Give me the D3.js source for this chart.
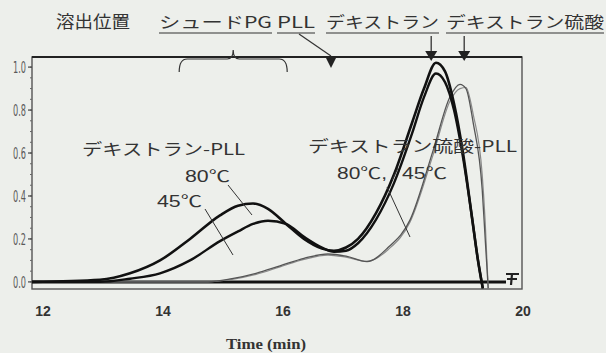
<!DOCTYPE html>
<html>
<head>
<meta charset="utf-8">
<script src="https://cdn.jsdelivr.net/npm/d3@7"></script>
<style>
  body { margin: 0; background: #edefeb; }
  text { fill: #333; }
</style>
</head>
<body>
<svg id="chart" width="606" height="353"></svg>
<script>
// elution curves (time in min, relative intensity)
var timeDexPll = [11.87, 13.0, 13.5, 14.0, 14.5, 15.0, 15.3, 15.55, 15.8, 16.1, 16.4, 16.7, 16.9,
                  17.1, 17.3, 17.6, 17.9, 18.2, 18.4, 18.6, 18.75, 18.9, 19.05, 19.2, 19.3, 19.38];
var dexPll80 = [0, 0.01, 0.04, 0.1, 0.2, 0.31, 0.355, 0.365, 0.34, 0.27, 0.2, 0.155, 0.145,
                0.16, 0.2, 0.32, 0.5, 0.74, 0.9, 1.02, 0.98, 0.83, 0.6, 0.3, 0.1, -0.03];
var dexPll45 = [0, 0, 0.015, 0.04, 0.1, 0.19, 0.235, 0.27, 0.285, 0.27, 0.21, 0.16, 0.14,
                0.145, 0.18, 0.29, 0.46, 0.69, 0.86, 0.97, 0.93, 0.8, 0.58, 0.3, 0.1, -0.03];

var timeDexSul = [11.87, 14.8, 15.2, 15.6, 16.0, 16.4, 16.8, 17.1, 17.45, 17.8, 18.17, 18.55,
                  18.83, 19.0, 19.1, 19.22, 19.37, 19.42, 19.47];
var dexSul80 = [0, 0, 0.015, 0.04, 0.075, 0.11, 0.13, 0.12, 0.095, 0.16, 0.29, 0.61,
                0.86, 0.92, 0.9, 0.74, 0.43, 0.2, -0.03];
var dexSul45 = [0, 0, 0.012, 0.035, 0.07, 0.105, 0.125, 0.115, 0.095, 0.15, 0.28, 0.59,
                0.84, 0.9, 0.905, 0.78, 0.5, 0.28, -0.03];

var yTicks = [0, 0.2, 0.4, 0.6, 0.8, 1.0];
var xTicks = [12, 14, 16, 18, 20];

// elution position markers (top of the frame)
var markerLabels = ["シュードPG", "PLL", "デキストラン", "デキストラン硫酸"];
var pgRange = [14.32, 16.12];
var pllTime = 16.85;
var dexTime = 18.52;
var dexSulTime = 19.07;

var svg = d3.select("#chart");
var frameL = 32, frameR = 522, frameT = 57, frameB = 289;

var x = d3.scaleLinear().domain([12, 20]).range([40, 520]);
var y = d3.scaleLinear().domain([-0.033, 1.047]).range([frameB, frameT]);

// frame
svg.append("rect")
    .attr("x", frameL).attr("y", frameT)
    .attr("width", frameR - frameL).attr("height", frameB - frameT)
    .attr("fill", "none").attr("stroke", "#555").attr("stroke-width", 1.4);
svg.append("line")
    .attr("x1", frameL).attr("x2", frameR).attr("y1", frameT).attr("y2", frameT)
    .attr("stroke", "#222").attr("stroke-width", 2);

// y axis ticks, labels squashed like the scan
var minor = d3.range(0, 1.001, 0.05);
svg.append("g").selectAll("line")
    .data(minor).enter().append("line")
      .attr("x1", frameL - 2).attr("x2", frameL)
      .attr("y1", function(d) { return y(d); })
      .attr("y2", function(d) { return y(d); })
      .attr("stroke", "#666").attr("stroke-width", 1);
svg.append("g").selectAll("line")
    .data(yTicks).enter().append("line")
      .attr("x1", frameL - 4).attr("x2", frameL)
      .attr("y1", function(d) { return y(d); })
      .attr("y2", function(d) { return y(d); })
      .attr("stroke", "#444").attr("stroke-width", 1.2);
svg.append("g").selectAll("text")
    .data(yTicks).enter().append("text")
      .attr("x", 26).attr("y", function(d) { return y(d) + 6; })
      .attr("text-anchor", "end")
      .attr("font-family", "DejaVu Sans Condensed, DejaVu Sans")
      .attr("font-size", 16)
      .attr("textLength", 13).attr("lengthAdjust", "spacingAndGlyphs")
      .style("fill", "#5a5a5a")
      .text(function(d) { return d.toFixed(1); });

// x axis labels
svg.append("g").selectAll("text")
    .data(xTicks).enter().append("text")
      .attr("x", function(d) { return x(d) + 3; })
      .attr("y", 316)
      .attr("text-anchor", "middle")
      .attr("font-family", "Liberation Sans, Arial")
      .attr("font-weight", "bold")
      .attr("font-size", 14)
      .text(function(d) { return d; });

svg.append("text")
    .attr("x", 266).attr("y", 349)
    .attr("text-anchor", "middle")
    .attr("font-family", "Liberation Serif, Times New Roman")
    .attr("font-weight", "bold")
    .attr("font-size", 14)
    .attr("textLength", 80).attr("lengthAdjust", "spacingAndGlyphs")
    .text("Time (min)");

// baseline
svg.append("line")
    .attr("x1", frameL).attr("x2", 506)
    .attr("y1", y(0)).attr("y2", y(0))
    .attr("stroke", "#111").attr("stroke-width", 3);

// curves
var line = d3.line()
    .x(function(d) { return x(d[0]); })
    .y(function(d) { return y(d[1]); })
    .curve(d3.curveMonotoneX);

var curves = [
  { t: timeDexSul, v: dexSul45, color: "#8a8a8a", w: 1.2 },
  { t: timeDexSul, v: dexSul80, color: "#555", w: 1.3 },
  { t: timeDexPll, v: dexPll45, color: "#111", w: 2.4 },
  { t: timeDexPll, v: dexPll80, color: "#111", w: 2.6 }
];

svg.append("g").selectAll("path")
    .data(curves).enter().append("path")
      .attr("d", function(c) { return line(d3.zip(c.t, c.v)); })
      .attr("fill", "none")
      .attr("stroke", function(c) { return c.color; })
      .attr("stroke-width", function(c) { return c.w; })
      .attr("stroke-linejoin", "round");

// odd pen mark at the lower right
svg.append("path")
    .attr("d", "M506,274 L519,274 M507,279 L517,279 M512,274 L511,285")
    .attr("stroke", "#222").attr("stroke-width", 2.2).attr("fill", "none");

// header annotations
var jp = "Noto Sans CJK JP";
svg.append("text")
    .attr("x", 56).attr("y", 28)
    .attr("font-family", jp).attr("font-size", 17)
    .attr("textLength", 74).attr("lengthAdjust", "spacingAndGlyphs")
    .text("溶出位置");

var headerPos = [[159, 272], [277, 315], [326, 439], [446, 604]];
var header = svg.append("g");
markerLabels.forEach(function(lbl, i) {
  var p = headerPos[i];
  header.append("text")
      .attr("x", p[0]).attr("y", 28)
      .attr("font-family", jp).attr("font-size", 16)
      .attr("textLength", p[1] - p[0]).attr("lengthAdjust", "spacingAndGlyphs")
      .text(lbl);
  header.append("line")
      .attr("x1", p[0]).attr("x2", p[1])
      .attr("y1", 33).attr("y2", 33)
      .attr("stroke", "#333").attr("stroke-width", 1.2);
});

// brace under シュードPG
var b0 = x(pgRange[0]), b1 = x(pgRange[1]), bm = (b0 + b1) / 2;
svg.append("path")
    .attr("d", "M" + b0 + ",72 Q" + b0 + ",59 " + (b0 + 8) + ",59 L" + (bm - 6) + ",59 Q" + bm + ",59 " + bm + ",50" +
               " Q" + bm + ",59 " + (bm + 6) + ",59 L" + (b1 - 8) + ",59 Q" + b1 + ",59 " + b1 + ",72")
    .attr("fill", "none").attr("stroke", "#333").attr("stroke-width", 1.2);

// PLL marker
var px = x(pllTime);
svg.append("line")
    .attr("x1", 299).attr("y1", 34).attr("x2", px).attr("y2", 56)
    .attr("stroke", "#333").attr("stroke-width", 1.2);
svg.append("path")
    .attr("d", "M" + (px - 6) + ",56 L" + (px + 6) + ",56 L" + px + ",68 Z")
    .attr("fill", "#222");

// dextran / dextran sulfate arrows
[dexTime, dexSulTime].forEach(function(t) {
  var ax = x(t);
  svg.append("line")
      .attr("x1", ax).attr("x2", ax).attr("y1", 36).attr("y2", 52)
      .attr("stroke", "#333").attr("stroke-width", 1.3);
  svg.append("path")
      .attr("d", "M" + (ax - 6) + ",51 L" + (ax + 6) + ",51 L" + ax + ",61 Z")
      .attr("fill", "#222");
});

// in-plot labels and leaders
var labels = [
  { s: "デキストラン-PLL", x: 82, y: 155, w: 163, f: jp },
  { s: "80℃", x: 185, y: 182, w: 45, f: "Liberation Sans" },
  { s: "45℃", x: 157, y: 207, w: 45, f: "Liberation Sans" },
  { s: "デキストラン硫酸-PLL", x: 308, y: 152, w: 209, f: jp },
  { s: "80℃,", x: 337, y: 179, w: 50, f: "Liberation Sans" },
  { s: "45℃", x: 402, y: 179, w: 45, f: "Liberation Sans" }
];
svg.append("g").selectAll("text")
    .data(labels).enter().append("text")
      .attr("x", function(d) { return d.x; })
      .attr("y", function(d) { return d.y; })
      .attr("font-family", function(d) { return d.f + ", Noto Sans CJK JP"; })
      .attr("font-size", 16)
      .attr("textLength", function(d) { return d.w; })
      .attr("lengthAdjust", "spacingAndGlyphs")
      .text(function(d) { return d.s; });

var leaders = [
  [228, 185, 252, 215],
  [205, 209, 233, 255],
  [387, 187, 410, 237],
  [398, 168, 392, 180]
];
svg.append("g").selectAll("line")
    .data(leaders).enter().append("line")
      .attr("x1", function(d) { return d[0]; })
      .attr("y1", function(d) { return d[1]; })
      .attr("x2", function(d) { return d[2]; })
      .attr("y2", function(d) { return d[3]; })
      .attr("stroke", "#333").attr("stroke-width", 1);
</script>
</body>
</html>
